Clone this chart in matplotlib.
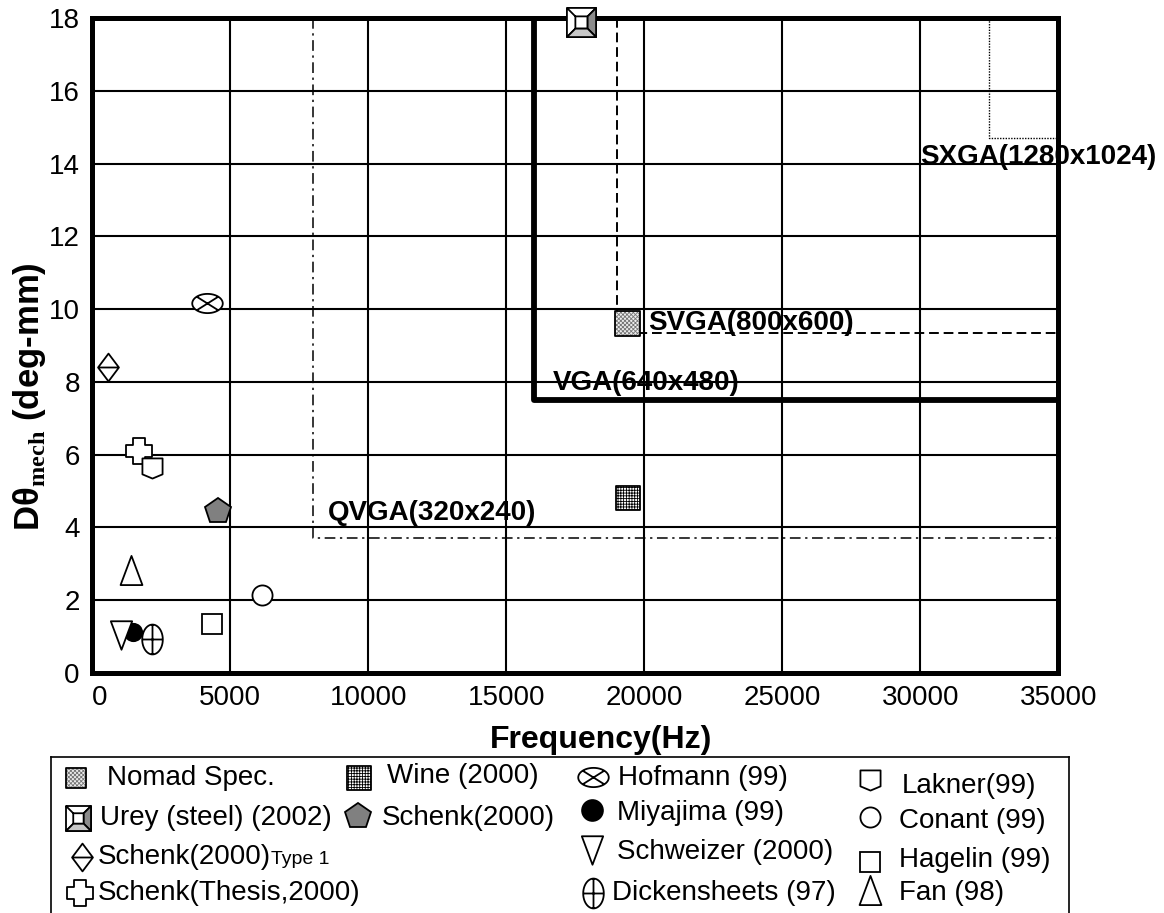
import numpy as np
import matplotlib
matplotlib.use('Agg')
import matplotlib.pyplot as plt
from matplotlib.path import Path

plt.rcParams['font.family'] = ['Liberation Sans', 'DejaVu Sans']
plt.rcParams['mathtext.fontset'] = 'custom'
plt.rcParams['mathtext.rm'] = 'Liberation Serif:bold'
plt.rcParams['hatch.linewidth'] = 0.6

# --- data (frequency Hz, deg-mm) ---
names = ['Nomad Spec.', 'Urey (steel) (2002)', 'Schenk(2000)', 'Schenk(Thesis,2000)',
         'Wine (2000)', 'Schenk(2000)', 'Hofmann (99)', 'Miyajima (99)',
         'Schweizer (2000)', 'Dickensheets (97)', 'Lakner(99)', 'Conant (99)',
         'Hagelin (99)', 'Fan (98)']
freq = [19400, 17700, 580, 1700, 19400, 4550, 4150, 1490, 1030, 2150, 2150, 6150, 4320, 1400]
dtheta = [9.6, 17.9, 8.42, 6.1, 4.8, 4.46, 10.16, 1.13, 1.05, 0.92, 5.62, 2.14, 1.34, 2.82]

# display formats: corner of each region (min freq, min dtheta)
formats = ['QVGA(320x240)', 'VGA(640x480)', 'SVGA(800x600)', 'SXGA(1280x1024)']
fmt_freq = [8000, 16000, 19000, 32500]
fmt_dtheta = [3.7, 7.5, 9.35, 14.7]
fmt_label_x = [8550, 16700, 20130, 29990]
fmt_label_y = [4.4, 7.97, 9.62, 14.18]

xticks = [0, 5000, 10000, 15000, 20000, 25000, 30000, 35000]
yticks = [0, 2, 4, 6, 8, 10, 12, 14, 16, 18]

# --- custom marker shapes ---
M, L, C = Path.MOVETO, Path.LINETO, Path.CLOSEPOLY


def polygon(pts):
    return Path(pts + [pts[0]], [M] + [L] * (len(pts) - 1) + [C])


def ellipse(rx, ry, lines):
    t = np.linspace(0, 2 * np.pi, 49)
    v = list(zip(rx * np.cos(t), ry * np.sin(t)))
    c = [M] + [L] * 47 + [C]
    for a, b in lines:
        v += [a, b]
        c += [M, L]
    return Path(v, c)


k = 0.7071
hof_path = ellipse(1, 0.63, [((-k, -0.63 * k), (k, 0.63 * k)), ((-k, 0.63 * k), (k, -0.63 * k))])
dick_path = ellipse(0.69, 1, [((-0.69, 0), (0.69, 0)), ((0, -1), (0, 1))])
diam_path = Path([(0, 1), (0.75, 0), (0, -1), (-0.75, 0), (0, 1), (-0.75, 0), (0.75, 0)],
                 [M, L, L, L, C, M, L])
up_tri = polygon([(0, 1), (0.75, -1), (-0.75, -1)])
down_tri = polygon([(-0.75, 1), (0.75, 1), (0, -1)])
shield = polygon([(-1, 1), (1, 1), (1, -0.58), (0, -1), (-1, -0.58)])
a = 0.5
cross = polygon([(-a, 1), (a, 1), (a, a), (1, a), (1, -a), (a, -a), (a, -1), (-a, -1),
                 (-a, -a), (-1, -a), (-1, a), (-a, a)])
b = 0.42
urey_base = Path([(-1, -1), (1, -1), (1, 1), (-1, 1), (-1, -1),
                  (-b, -b), (b, -b), (b, b), (-b, b), (-b, -b),
                  (-1, -1), (-b, -b), (1, 1), (b, b), (-1, 1), (-b, b), (1, -1), (b, -b)],
                 [M, L, L, L, C, M, L, L, L, C, M, L, M, L, M, L, M, L])
urey_right = polygon([(1, 1), (1, -1), (b, -b), (b, b)])
urey_bottom = polygon([(-1, -1), (1, -1), (b, -b), (-b, -b)])


def draw_marker(ax, i, x, y, legend=False):
    kw = dict(ls='none', clip_on=False, zorder=5, mec='black', mew=1.3)
    if i == 0:
        s = 220 if legend else 330
        ax.scatter([x], [y], s=s, marker='s', facecolor='#eeeeee', edgecolor='#777777',
                   hatch='xxxxxxxx', linewidth=0, clip_on=False, zorder=5)
        ax.scatter([x], [y], s=s, marker='s', facecolor='none', edgecolor='black',
                   linewidth=1.3, clip_on=False, zorder=6)
    elif i == 1:
        ms = 18 if legend else 21
        ax.plot([x], [y], marker=urey_base, ms=ms, mfc='white', **kw)
        ax.plot([x], [y], marker=urey_right, ms=ms, mfc='#8c8c8c', **kw)
        ax.plot([x], [y], marker=urey_bottom, ms=ms, mfc='#c8c8c8', **kw)
    elif i == 2:
        ax.plot([x], [y], marker=diam_path, ms=20, mfc='white', **kw)
    elif i == 3:
        ax.plot([x], [y], marker=cross, ms=18.5, mfc='white', **kw)
    elif i == 4:
        ax.scatter([x], [y], s=310, marker='s', facecolor='white', edgecolor='black',
                   hatch='++++++', linewidth=1.3, clip_on=False, zorder=5)
    elif i == 5:
        ax.plot([x], [y], marker='p', ms=19, mfc='#808080', **kw)
    elif i == 6:
        ax.plot([x], [y], marker=hof_path, ms=22, mfc='white', **kw)
    elif i == 7:
        ax.plot([x], [y], marker='o', ms=15 if legend else 12.5, mfc='black', **kw)
    elif i == 8:
        ax.plot([x], [y], marker=down_tri, ms=20.5, mfc='white', **kw)
    elif i == 9:
        ax.plot([x], [y], marker=dick_path, ms=21.5, mfc='white', **kw)
    elif i == 10:
        ax.plot([x], [y], marker=shield, ms=14.5, mfc='white', **kw)
    elif i == 11:
        ax.plot([x], [y], marker='o', ms=14.5, mfc='white', **kw)
    elif i == 12:
        ax.plot([x], [y], marker='s', ms=14.5, mfc='white', **kw)
    elif i == 13:
        ax.plot([x], [y], marker=up_tri, ms=21, mfc='white', **kw)


W, H = 1164, 913
fig = plt.figure(figsize=(W / 100, H / 100), dpi=100)
ax = fig.add_axes([92.3 / W, 1 - 672.7 / H, 966 / W, 654.5 / H])
ax.set_xlim(0, 35000)
ax.set_ylim(0, 18)
ax.set_xticks(xticks)
ax.set_yticks(yticks)
ax.set_xticklabels([str(t) for t in xticks])
ax.tick_params(length=0, labelsize=20)
ax.tick_params(axis='x', pad=9)
ax.tick_params(axis='y', pad=9)
ax.get_xticklabels()[0].set_horizontalalignment('left')
ax.grid(True, color='black', lw=1.5)
ax.set_axisbelow(True)
for sp in ax.spines.values():
    sp.set_linewidth(3.6)

# display format regions
styles = [dict(ls=(0, (7, 3, 1.5, 3)), lw=1.1), dict(ls='-', lw=4.2),
          dict(ls=(0, (5, 2.5)), lw=1.4), dict(ls=(0, (1, 1)), lw=1.0)]
for fx, fy, st in zip(fmt_freq, fmt_dtheta, styles):
    ax.plot([fx, fx, 35000], [18, fy, fy], color='black', zorder=3, **st)
for name, lx, ly in zip(formats, fmt_label_x, fmt_label_y):
    ax.text(lx, ly, name, fontsize=20, fontweight='bold', ha='left', va='center',
            zorder=7, clip_on=False)

for i in range(len(names)):
    draw_marker(ax, i, freq[i], dtheta[i])

fig.text(601 / W, 1 - 748 / H, 'Frequency(Hz)', fontsize=23, fontweight='bold',
         ha='center', va='baseline')
fig.text(29 / W, 1 - 397 / H, 'D\u03b8$_{\\mathrm{mech}}$ (deg-mm)', fontsize=25,
         fontweight='bold', rotation=90, ha='center', va='center')

# legend panel in pixel coordinates
lg = fig.add_axes([51 / W, 0, (1069 - 51) / W, (913 - 757) / H])
lg.set_xlim(51, 1069)
lg.set_ylim(913, 757)
lg.set_xticks([])
lg.set_yticks([])
lg.patch.set_alpha(0)
lg.spines['bottom'].set_visible(False)
for s in ['left', 'top', 'right']:
    lg.spines[s].set_linewidth(1.2)

leg_mx = [76, 78, 82, 80, 359, 358, 593, 592, 592, 593, 870, 870, 870, 870]
leg_my = [778, 818, 857, 893, 778, 816, 777, 810, 850, 893, 780, 817, 862, 890]
leg_tx = [107, 100, 98, 98, 387, 382, 618, 617, 617, 612, 902, 899, 899, 899]
leg_ty = [778, 818, 857, 893, 776, 818, 778, 813, 852, 893, 786, 821, 860, 893]
for i in range(len(names)):
    draw_marker(lg, i, leg_mx[i], leg_my[i], legend=True)
    t = lg.text(leg_tx[i], leg_ty[i], names[i], fontsize=20, ha='left', va='center')
    if i == 2:
        lg.annotate('Type 1', xy=(1, 0.08), xycoords=t, fontsize=14, ha='left', va='bottom')

fig.savefig('out.png', dpi=100)
